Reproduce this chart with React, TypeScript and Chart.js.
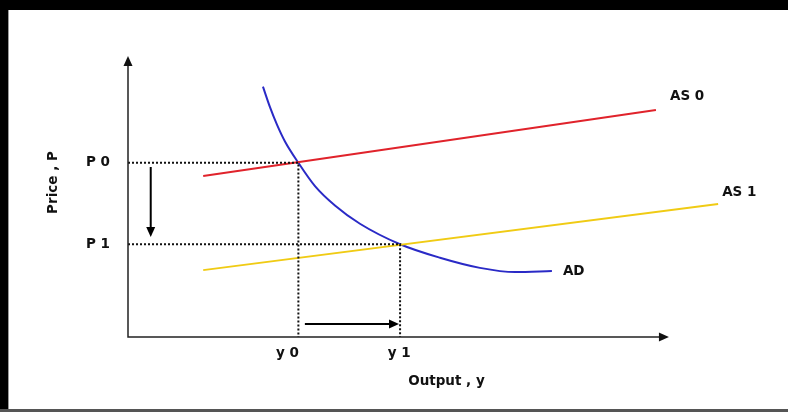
import React, { useEffect, useRef } from "react";
import { Chart, registerables } from "chart.js";

Chart.register(...registerables);

// Aggregate supply curves (output, price)
const AS0_OUTPUT = [13.9, 97.6];
const AS0_PRICE = [57.3, 80.8];
const AS1_OUTPUT = [13.9, 109.1];
const AS1_PRICE = [23.8, 47.3];
// Aggregate demand curve
const AD_OUTPUT = [24.95, 26.25, 27.54, 29.02, 31.5, 34.57, 38.26, 42.88, 50.3, 57.67, 65.06, 71.53, 78.37];
const AD_PRICE = [89.1, 81.8, 75.6, 69.6, 62, 53.7, 46.8, 40.3, 33, 28.2, 24.6, 23.1, 23.5];
// Equilibria
const EQ_OUTPUT = [31.5, 50.3];
const EQ_PRICE = [62, 33];
const OUTPUT_LABELS = ["y 0", "y 1"];
const PRICE_LABELS = ["P 0", "P 1"];
const CURVE_LABELS = ["AS 0", "AS 1", "AD"];
// Shift arrows
const DOWN_ARROW_X = 4.2;
const DOWN_ARROW_FROM_TO = [60.5, 35.6];
const RIGHT_ARROW_Y = 4.6;
const RIGHT_ARROW_FROM_TO = [32.7, 50.1];
// Axes
const AXIS_MAX_X = 100;
const AXIS_MAX_Y = 100;

const FONT = "bold 13.5px 'DejaVu Sans'";

function pts(xs: number[], ys: number[]) {
  return xs.map((x, i) => ({ x, y: ys[i] }));
}

function arrowHead(ctx: CanvasRenderingContext2D, tx: number, ty: number, dir: "up" | "down" | "right", len = 10, half = 4.5) {
  ctx.beginPath();
  if (dir === "up") {
    ctx.moveTo(tx, ty);
    ctx.lineTo(tx - half, ty + len);
    ctx.lineTo(tx + half, ty + len);
  } else if (dir === "down") {
    ctx.moveTo(tx, ty);
    ctx.lineTo(tx - half, ty - len);
    ctx.lineTo(tx + half, ty - len);
  } else {
    ctx.moveTo(tx, ty);
    ctx.lineTo(tx - len, ty - half);
    ctx.lineTo(tx - len, ty + half);
  }
  ctx.closePath();
  ctx.fill();
}

const decorPlugin = {
  id: "decor",
  beforeDraw(chart: any) {
    const { ctx, width, height } = chart;
    ctx.save();
    ctx.fillStyle = "#ffffff";
    ctx.fillRect(0, 0, width, height);
    ctx.fillStyle = "#000000";
    ctx.fillRect(0, 0, width, 10);
    ctx.fillRect(0, 0, 8, height);
    ctx.fillStyle = "#555555";
    ctx.fillRect(0, height - 3, width, 3);
    ctx.fillStyle = "#9a9a9a";
    ctx.fillRect(8, 10, 1, height - 13);
    ctx.restore();
  },
  afterDatasetsDraw(chart: any) {
    const { ctx } = chart;
    const xs = chart.scales.x;
    const ys = chart.scales.y;
    const X = (v: number) => xs.getPixelForValue(v);
    const Y = (v: number) => ys.getPixelForValue(v);
    ctx.save();
    // axes
    ctx.strokeStyle = "#222";
    ctx.fillStyle = "#111";
    ctx.lineWidth = 1.5;
    ctx.beginPath();
    ctx.moveTo(X(0), Y(AXIS_MAX_Y) + 8);
    ctx.lineTo(X(0), Y(0));
    ctx.lineTo(X(AXIS_MAX_X) - 8, Y(0));
    ctx.stroke();
    arrowHead(ctx, X(0), Y(AXIS_MAX_Y), "up");
    arrowHead(ctx, X(AXIS_MAX_X), Y(0), "right");
    // shift arrows
    ctx.lineWidth = 2;
    ctx.strokeStyle = "#000";
    ctx.fillStyle = "#000";
    ctx.beginPath();
    ctx.moveTo(X(DOWN_ARROW_X), Y(DOWN_ARROW_FROM_TO[0]));
    ctx.lineTo(X(DOWN_ARROW_X), Y(DOWN_ARROW_FROM_TO[1]) - 8);
    ctx.stroke();
    arrowHead(ctx, X(DOWN_ARROW_X), Y(DOWN_ARROW_FROM_TO[1]), "down");
    ctx.beginPath();
    ctx.moveTo(X(RIGHT_ARROW_FROM_TO[0]), Y(RIGHT_ARROW_Y));
    ctx.lineTo(X(RIGHT_ARROW_FROM_TO[1]) - 8, Y(RIGHT_ARROW_Y));
    ctx.stroke();
    arrowHead(ctx, X(RIGHT_ARROW_FROM_TO[1]), Y(RIGHT_ARROW_Y), "right");

    // labels
    ctx.font = FONT;
    ctx.fillStyle = "#111";
    ctx.textBaseline = "middle";
    ctx.textAlign = "center";
    PRICE_LABELS.forEach((t, i) => ctx.fillText(t, X(0) - 30, Y(EQ_PRICE[i])));
    OUTPUT_LABELS.forEach((t, i) => ctx.fillText(t, X(EQ_OUTPUT[i]) - (i === 0 ? 11 : 1), Y(0) + 16));
    ctx.fillText("Output , y", (X(0) + X(AXIS_MAX_X)) / 2 + 48, Y(0) + 44);
    ctx.save();
    ctx.translate(X(0) - 75, (Y(0) + Y(AXIS_MAX_Y)) / 2 - 14);
    ctx.rotate(-Math.PI / 2);
    ctx.fillText("Price , P", 0, 0);
    ctx.restore();
    ctx.textAlign = "left";
    const ends = [
      [AS0_OUTPUT[AS0_OUTPUT.length - 1], AS0_PRICE[AS0_PRICE.length - 1], 14, -13],
      [AS1_OUTPUT[AS1_OUTPUT.length - 1], AS1_PRICE[AS1_PRICE.length - 1], 4, -12],
      [AD_OUTPUT[AD_OUTPUT.length - 1], AD_PRICE[AD_PRICE.length - 1], 11, 1],
    ];
    ends.forEach((e, i) => ctx.fillText(CURVE_LABELS[i], X(e[0]) + e[2], Y(e[1]) + e[3]));
    ctx.restore();
  },
};

export default function App() {
  const ref = useRef<HTMLCanvasElement | null>(null);
  useEffect(() => {
    document.body.style.margin = "0";
    if (!ref.current) return;
    const dotted = (i: number) => ({
      data: [
        { x: 0, y: EQ_PRICE[i] },
        { x: EQ_OUTPUT[i], y: EQ_PRICE[i] },
        { x: EQ_OUTPUT[i], y: 0 },
      ],
      borderColor: "#111",
      borderWidth: 2,
      borderDash: [2, 2],
      pointRadius: 0,
      tension: 0,
      clip: false as any,
    });
    const chart = new Chart(ref.current, {
      type: "line",
      data: {
        datasets: [
          dotted(0) as any,
          dotted(1) as any,
          {
            data: pts(AS0_OUTPUT, AS0_PRICE),
            borderColor: "#e0232b",
            borderWidth: 2,
            pointRadius: 0,
            clip: false as any,
          },
          {
            data: pts(AS1_OUTPUT, AS1_PRICE),
            borderColor: "#f0cb14",
            borderWidth: 2,
            pointRadius: 0,
            clip: false as any,
          },
          {
            data: pts(AD_OUTPUT, AD_PRICE),
            borderColor: "#2a2ac6",
            borderWidth: 2,
            pointRadius: 0,
            cubicInterpolationMode: "monotone",
            clip: false as any,
          },
        ],
      },
      options: {
        responsive: false,
        animation: false,
        layout: { padding: { left: 128, right: 65, top: 56, bottom: 75 } },
        plugins: { legend: { display: false }, tooltip: { enabled: false } },
        scales: {
          x: { type: "linear", min: 0, max: 110, display: false },
          y: { type: "linear", min: 0, max: 100, display: false },
        },
      },
      plugins: [decorPlugin],
    });
    return () => chart.destroy();
  }, []);
  return <canvas ref={ref} width={788} height={412} style={{ display: "block" }} />;
}
